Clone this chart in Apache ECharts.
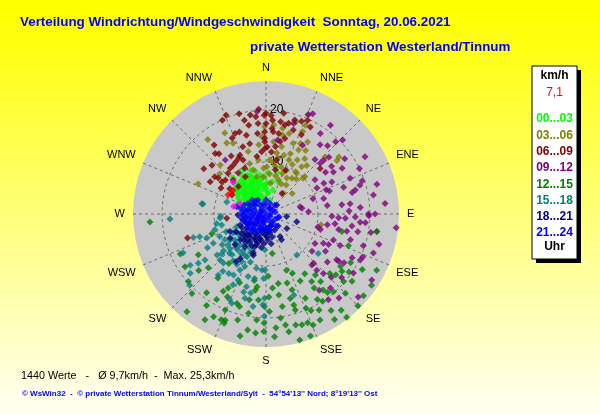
<!DOCTYPE html>
<html><head><meta charset="utf-8">
<script src="https://cdn.jsdelivr.net/npm/echarts@6/dist/echarts.min.js"></script>
<style>html,body{margin:0;padding:0;background:#fff}#c{width:600px;height:415px;}</style>
</head><body><div id="c"></div><script>
// ---- labels ----
const titleText = 'Verteilung Windrichtung/Windgeschwindigkeit  Sonntag, 20.06.2021';
const subtitleText = 'private Wetterstation Westerland/Tinnum';
const footerStats = '1440 Werte   -   Ø 9,7km/h  -  Max. 25,3km/h';
const footerCopy = '© WsWin32  -  © private Wetterstation Tinnum/Westerland/Sylt  -  54°54\'13\'\' Nord; 8°19\'13\'\' Ost';
const compassLabels = ['N','NNE','NE','ENE','E','ESE','SE','SSE','S','SSW','SW','WSW','W','WNW','NW','NNW'];
const radiusTickValues = [10, 20];
const legendUnit = 'km/h';
const currentSpeed = '7,1';
const legendFooter = 'Uhr';
const timeBins = ['00...03','03...06','06...09','09...12','12...15','15...18','18...21','21...24'];
const binColors = ['#00ff00','#808000','#800000','#800080','#008000','#008080','#000080','#0000ff'];

// ---- data: [speed km/h, direction deg] ----
const h00_03 = [[7.5,318],[7.7,328],[7.6,336],[6.9,342],[6.3,349],[5.6,358],[6.4,316],[6.1,325],[5.9,335],[5.2,343],[4.7,353],[6.5,304],[5.5,309],[4.9,321],[4.1,332],[3.5,347],[5.7,298],[4.4,299],[3.7,313],[2.6,324],[2.3,350],[3.6,288],[2.5,302],[4.8,286],[7.4,309],[4.1,5],[8.9,341],[7.9,3],[8.3,15],[4.8,16],[6.6,21],[6.0,2],[9.5,332],[8.3,314],[7.6,351],[8.3,334],[2.8,16],[4.7,333],[4.3,315],[6.9,324],[8.0,325],[6.3,342],[6.8,353],[5.3,330],[5.4,318],[5.8,291],[3.4,336],[5.0,0],[6.3,11],[9.4,318],[7.0,332],[6.6,338],[5.7,346],[5.0,327],[4.5,340],[3.9,322],[3.2,307],[6.1,312],[7.2,322],[8.6,328],[5.5,355],[4.0,5],[3.0,355],[7.0,345],[6.2,300],[4.6,308],[5.8,317],[3.0,336],[8.1,338],[7.8,305],[7.3,313],[6.7,320],[5.9,328],[6.4,333],[7.4,340],[5.2,311],[4.4,327],[5.1,337],[6.0,348],[4.9,304],[3.8,296],[6.8,308],[7.9,320],[8.5,346],[7.1,357],[3.9,341]];
const h03_06 = [[18.2,322],[17.5,333],[15.6,331],[15.0,335],[12.9,317],[11.8,311],[14.3,294],[12.5,344],[10.5,352],[10.2,342],[13.4,354],[14.9,357],[8.8,357],[8.8,344],[7.4,346],[16.8,359],[17.2,5],[16.8,11],[18.6,18],[16.1,16],[14.6,21],[18.7,24],[20.7,23],[15.1,26],[14.4,32],[11.8,17],[11.3,23],[12.0,30],[11.4,37],[9.9,35],[10.4,46],[8.5,36],[8.4,22],[9.3,11],[7.0,20],[6.4,52],[6.0,8],[17.8,52],[17.4,24],[9.1,1],[10.4,4],[11.9,10],[13.3,13],[9.3,25],[9.8,37],[9.9,46],[5.2,40],[7.2,356],[15.8,46],[17.1,53],[10.8,101],[8.0,30],[7.6,14],[10.8,28],[12.5,22],[9.5,18],[6.8,35],[11.0,12],[13.8,27],[8.9,41],[12.2,40],[7.8,5],[14.0,6],[10.0,8],[16.0,30],[13.0,35],[15.5,12],[6.5,27]];
const h06_09 = [[20.5,338],[19.9,335],[18.5,347],[17.4,349],[18.8,354],[17.5,355],[19.0,359],[17.4,0],[16.6,342],[15.6,346],[15.6,354],[15.8,359],[16.6,339],[16.6,323],[15.2,320],[14.7,322],[14.8,306],[12.4,300],[12.2,306],[11.5,307],[10.5,306],[10.2,310],[11.2,322],[11.3,326],[11.6,330],[12.0,334],[12.4,336],[10.7,317],[13.7,341],[13.9,347],[11.3,337],[11.2,351],[12.0,356],[9.7,335],[8.5,305],[7.5,299],[7.5,315],[9.1,316],[8.2,331],[14.6,359],[12.9,1],[19.4,0],[13.9,359],[12.6,359],[18.1,4],[15.9,5],[15.7,9],[18.0,9],[19.7,10],[17.5,12],[18.0,14],[18.9,17],[19.1,21],[19.7,24],[18.8,27],[16.7,24],[14.2,11],[13.1,8],[10.6,11],[8.7,12],[5.0,38],[13.6,50],[9.2,24],[7.6,264],[15.8,253],[20.2,356],[19.3,351],[16.0,336],[13.0,329],[10.0,300],[9.5,326],[14.0,312],[16.5,4],[19.0,3],[17.0,18],[15.0,14],[12.0,5],[20.0,345]];
const h09_12 = [[21.3,25],[15.0,28],[18.7,34],[21.1,36],[16.9,38],[17.7,42],[19.3,44],[20.5,46],[15.2,47],[16.3,48],[15.6,54],[15.3,58],[17.1,59],[14.0,55],[11.5,55],[11.0,63],[12.6,62],[14.1,64],[15.8,71],[17.1,76],[17.6,67],[19.6,71],[22.1,75],[17.8,75],[11.5,75],[7.0,81],[11.9,82],[14.7,83],[16.3,83],[18.2,86],[19.7,90],[14.1,42],[14.3,47],[18.2,17],[13.0,323],[14.4,9],[19.8,355],[18.9,73],[8.2,87],[12.7,92],[14.0,93],[15.3,93],[17.2,92],[18.2,95],[19.2,95],[19.8,91],[14.3,102],[15.9,102],[17.0,107],[13.9,111],[13.4,116],[15.5,113],[19.7,108],[22.0,110],[20.2,116],[16.7,123],[17.7,122],[18.6,117],[13.2,136],[13.5,122],[12.4,117],[11.0,121],[18.9,139],[21.4,139],[23.9,132],[24.0,122],[10.9,106],[13.4,98],[16.7,98],[17.5,134],[14.6,138],[11.4,129],[25.2,96],[21.6,99],[21.0,90],[20.4,114],[16.2,123],[20.3,124],[20.8,23],[6.7,78],[10.3,104],[13.2,138],[17.9,145],[20.4,144],[15.9,136],[22.0,60],[20.0,64],[23.0,85],[21.0,80],[13.0,70],[16.0,88],[12.0,100],[18.0,101],[20.5,100],[22.5,105],[15.0,128],[19.0,130],[12.5,68],[9.5,72],[18.5,55]];
const h12_15 = [[21.6,99],[15.0,103],[17.0,111],[18.8,120],[23.9,117],[21.4,120],[24.5,124],[21.0,128],[19.8,131],[18.3,127],[17.8,131],[16.8,133],[19.8,139],[21.6,135],[25.0,135],[25.2,142],[22.4,146],[24.2,147],[23.5,142],[21.1,151],[22.9,153],[23.2,157],[22.4,159],[22.4,162],[25.0,160],[25.1,165],[23.1,169],[22.1,165],[21.7,170],[23.7,176],[20.2,172],[19.7,157],[19.2,149],[20.0,147],[17.9,155],[18.3,163],[19.3,163],[18.1,170],[16.9,164],[15.4,161],[15.8,171],[13.9,163],[13.6,170],[14.3,175],[17.0,147],[18.3,143],[13.7,147],[15.1,141],[16.7,141],[15.7,146],[12.5,156],[7.7,171],[19.2,142],[22.4,266],[11.1,250],[15.2,239],[18.6,237],[20.9,223],[19.0,217],[24.2,219],[22.2,207],[21.9,201],[20.1,203],[21.1,195],[19.4,190],[22.6,189],[18.1,198],[18.5,196],[17.0,209],[17.6,205],[15.4,217],[16.0,207],[14.2,201],[14.8,188],[16.6,185],[16.8,191],[14.1,187],[17.8,181],[21.0,181],[16.9,230],[19.8,229],[15.2,227],[11.9,217],[22.1,203],[22.5,201],[22.6,181],[18.2,245],[20.5,155],[22.0,175],[18.8,178],[16.0,178],[23.0,185],[20.5,185],[24.0,192],[19.0,210],[21.0,213],[23.5,210],[13.0,190],[12.0,178],[17.5,125],[19.5,125],[14.5,153],[11.5,160],[24.5,130]];
const h15_18 = [[18.5,267],[8.9,265],[9.7,259],[8.8,256],[10.3,253],[12.3,248],[13.5,251],[14.7,252],[17.6,245],[14.7,233],[16.1,234],[18.5,232],[20.1,227],[14.9,218],[13.8,217],[13.5,212],[12.3,230],[12.5,225],[12.5,221],[10.3,223],[8.7,221],[8.5,234],[9.3,238],[7.3,240],[6.6,229],[6.1,247],[8.2,212],[9.0,204],[10.9,202],[11.9,205],[13.3,208],[13.8,203],[14.5,195],[12.5,196],[12.6,190],[10.6,190],[6.9,182],[10.8,184],[15.6,196],[16.7,194],[17.9,203],[18.4,201],[18.0,188],[17.5,182],[19.7,181],[15.5,191],[11.6,241],[17.6,236],[12.3,279],[8.7,267],[12.5,279],[7.9,287],[9.9,143],[12.6,127],[10.8,181],[12.4,182],[16.2,181],[16.5,161],[7.8,230],[7.8,220],[8.9,207],[8.8,218],[9.4,231],[10.2,220],[9.7,198],[10.3,207],[8.4,246],[10.3,235],[7.0,215],[6.5,235],[9.0,212],[11.0,215],[6.0,222],[7.5,200],[11.5,228],[13.0,240],[15.0,205],[8.1,226],[9.6,226],[10.8,229],[7.2,208],[8.0,202],[11.2,210],[9.9,244],[6.8,241]];
const h18_21 = [[5.4,247],[5.3,229],[5.5,214],[5.4,203],[4.8,194],[4.0,183],[3.7,168],[4.6,165],[3.5,151],[3.3,135],[5.1,148],[5.8,149],[6.1,104],[4.0,97],[2.7,50],[8.3,197],[6.6,199],[8.4,225],[9.9,210],[6.2,197],[7.9,198],[10.8,212],[7.7,244],[8.3,236],[5.4,268],[5.3,240],[5.3,221],[5.6,196],[5.1,191],[5.0,176],[6.7,204],[6.6,220],[6.7,239],[7.5,213],[4.5,235],[4.2,210],[3.8,222],[4.6,255],[3.0,200],[3.5,240],[4.4,178],[2.5,160],[6.0,232],[6.2,210],[3.2,185],[4.0,260],[2.8,230],[6.5,188],[5.8,170],[4.9,125],[7.0,225],[4.9,218],[5.9,224],[4.3,200],[5.0,206],[3.6,190],[4.1,245],[6.4,215],[5.7,184],[3.4,172]];
const h21_24 = [[3.5,299],[2.7,309],[2.1,326],[1.7,354],[1.4,34],[4.1,281],[3.1,277],[2.3,290],[1.2,288],[0.4,333],[0.8,90],[1.8,78],[3.5,258],[2.6,253],[1.7,243],[1.0,217],[1.2,162],[1.9,143],[4.3,249],[3.4,232],[2.6,216],[2.3,190],[3.7,215],[3.4,193],[4.4,232],[4.4,268],[5.1,283],[2.4,45],[2.4,108],[2.7,172],[3.1,330],[2.7,0],[3.8,315],[2.6,103],[1.9,217],[1.9,270],[0.9,243],[5.8,284],[3.2,166],[1.5,200],[2.0,240],[3.0,260],[3.0,225],[2.5,270],[4.0,240],[1.0,300],[2.0,120],[3.0,140],[1.5,60],[2.2,20],[3.0,290],[4.8,260],[3.6,205],[2.9,180],[0.5,180],[1.3,320],[2.8,200],[4.0,300],[2.2,150],[3.9,270],[4.6,275],[3.3,245],[2.2,230],[1.4,255],[2.9,310],[3.6,283],[1.7,195],[2.5,160],[4.2,222],[0.9,120],[3.2,320],[4.6,292],[2.0,345],[1.2,30]];
const redPoints = [[7.7,301],[7.8,306],[8.2,297]];
const magentaPoints = [[8.8,314],[6.4,283],[5.4,292]];

const binData = [h00_03, h03_06, h06_09, h09_12, h12_15, h15_18, h18_21, h21_24];

const chart = echarts.init(document.getElementById('c'), null, {renderer: 'canvas'});

const POLAR_CENTER = [266, 214], POLAR_RADIUS = 133;
const GRID_LINE = {color: '#6a6a6a', width: 1, type: [3, 3]};

const series = [{
  // grey disc behind the polar grid
  type: 'pie', center: POLAR_CENTER, radius: POLAR_RADIUS, silent: true, z: 0,
  data: [{value: 1}], label: {show: false}, labelLine: {show: false},
  itemStyle: {color: '#c9c9c9', borderWidth: 0}, emphasis: {disabled: true}, animation: false
}];
binData.forEach((d, i) => series.push({
  type: 'scatter', coordinateSystem: 'polar', name: timeBins[i], data: d, z: 3,
  symbol: 'diamond', symbolSize: 7, itemStyle: {color: binColors[i]}, silent: true, animation: false
}));
series.push({type:'scatter', coordinateSystem:'polar', data: magentaPoints, z: 3, symbol:'diamond', symbolSize:7, itemStyle:{color:'#ff00ff'}, silent:true});
series.push({type:'scatter', coordinateSystem:'polar', data: redPoints, z: 3, symbol:'diamond', symbolSize:7, itemStyle:{color:'#ff0000'}, silent:true});

// legend box built from label arrays
const legendX = 532, legendY = 66, legendW = 45, legendH = 193, cx = legendX + legendW / 2;
const legendChildren = [
  {type:'rect', shape:{x:legendX+4, y:legendY+4, width:legendW, height:legendH}, style:{fill:'#000'}},
  {type:'rect', shape:{x:legendX, y:legendY, width:legendW, height:legendH}, style:{fill:'#fff', stroke:'#000', lineWidth:1}},
  {type:'text', style:{text:legendUnit, x:cx, y:legendY+10, align:'center', verticalAlign:'middle', font:'bold 12px Arial', fill:'#000'}},
  {type:'text', style:{text:currentSpeed, x:cx, y:legendY+27, align:'center', verticalAlign:'middle', font:'12px Arial', fill:'#ff0000'}},
  {type:'text', style:{text:legendFooter, x:cx, y:legendY+181, align:'center', verticalAlign:'middle', font:'bold 12px Arial', fill:'#000'}}
];
timeBins.forEach((t, i) => {
  legendChildren.push({type:'text', style:{text:t, x:cx, y:legendY+53+i*16.3, align:'center', verticalAlign:'middle', font:'bold 12px Arial', fill:binColors[i]}});
});

const option = {
  animation: false,
  backgroundColor: {type:'linear', x:0, y:0, x2:0, y2:1, colorStops:[{offset:0, color:'#ffff00'},{offset:0.1, color:'#ffff10'},{offset:1, color:'#fffff4'}]},
  title: [
    {text: titleText, left: 20, top: 16, padding: 0, textStyle:{color:'#0000ff', fontSize:13.4, fontWeight:'bold', fontFamily:'Arial'}},
    {text: subtitleText, left: 250, top: 41, padding: 0, textStyle:{color:'#0000ff', fontSize:13.4, fontWeight:'bold', fontFamily:'Arial'}},
    {text: footerStats, left: 21, top: 371, padding: 0, textStyle:{color:'#000', fontSize:10.8, fontWeight:'normal', fontFamily:'Arial'}},
    {text: footerCopy, left: 22, top: 390, padding: 0, textStyle:{color:'#0000ff', fontSize:8, fontWeight:'bold', fontFamily:'Arial'}}
  ],
  polar: {center: POLAR_CENTER, radius: POLAR_RADIUS},
  angleAxis: {
    type: 'value', min: 0, max: 360, interval: 22.5, startAngle: 90, clockwise: true, z: 1,
    axisLine: {show: false}, axisTick: {show: false},
    axisLabel: {formatter: v => compassLabels[Math.round(v / 22.5) % 16], color: '#000', fontSize: 11, fontFamily: 'Arial', margin: 8},
    splitLine: {show: true, lineStyle: GRID_LINE},
    splitArea: {show: false}
  },
  radiusAxis: {
    type: 'value', min: 0, max: 25.6, z: 1,
    axisLine: {show: false},
    axisTick: {show: false, customValues: radiusTickValues},
    axisLabel: {customValues: radiusTickValues, color: '#000', fontSize: 12, fontFamily: 'Arial', margin: -4, align: 'left', verticalAlign: 'middle'},
    splitLine: {show: true, lineStyle: GRID_LINE}
  },
  graphic: [{type: 'group', children: legendChildren}],
  series
};
chart.setOption(option);
</script></body></html>
